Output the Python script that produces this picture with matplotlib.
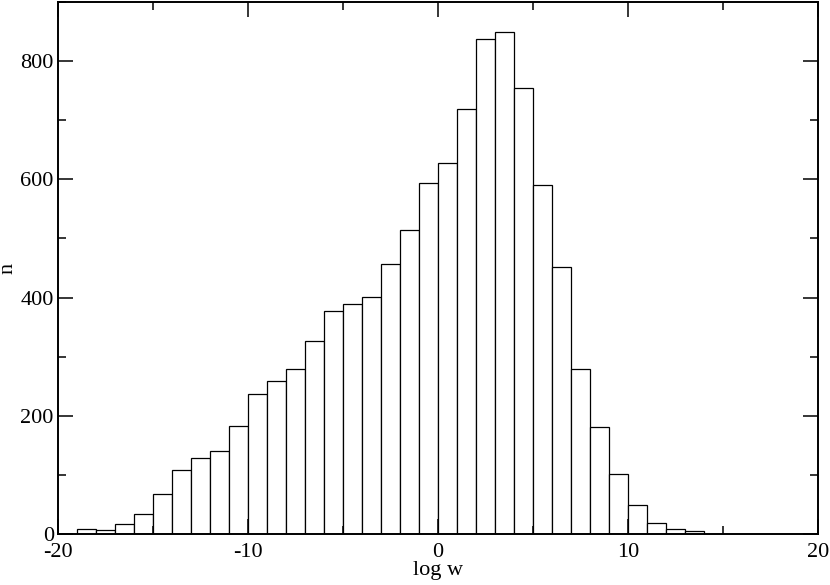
import numpy as np
import matplotlib
matplotlib.use('Agg')
import matplotlib.pyplot as plt
from matplotlib.ticker import MultipleLocator

# histogram data: left bin edges and counts
binLeft = [-19, -18, -17, -16, -15, -14, -13, -12, -11, -10, -9, -8, -7, -6, -5, -4,
           -3, -2, -1, 0, 1, 2, 3, 4, 5, 6, 7, 8, 9, 10, 11, 12, 13]
counts = [8, 6, 17, 33, 67, 108, 129, 141, 182, 236, 258, 279, 326, 378, 389, 401,
          457, 514, 593, 627, 719, 837, 849, 755, 591, 451, 279, 181, 101, 49, 18, 8, 5]
binWidth = 1

plt.rcParams['font.family'] = ['Liberation Serif', 'DejaVu Serif']
plt.rcParams['axes.unicode_minus'] = False

fig = plt.figure(figsize=(8.3, 5.85), dpi=100)
ax = fig.add_axes([0.0699, 0.0872, 0.9156, 0.9094])

ax.bar(binLeft, counts, width=binWidth, align='edge', facecolor='white',
       edgecolor='black', linewidth=0.9)

ax.set(xlim=(-20, 20), ylim=(0, 900))
ax.xaxis.set_major_locator(MultipleLocator(10))
ax.xaxis.set_minor_locator(MultipleLocator(5))
ax.yaxis.set_major_locator(MultipleLocator(200))
ax.yaxis.set_minor_locator(MultipleLocator(100))

ax.tick_params(which='both', direction='in', top=True, right=True, width=1.1, labelsize=16)
ax.tick_params(which='major', length=10.5)
ax.tick_params(which='minor', length=5.8)
ax.tick_params(axis='x', which='major', pad=6.5)
ax.tick_params(axis='y', which='major', pad=3)

for s in ax.spines.values():
    s.set_linewidth(1.4)

ax.set_xlabel('log w', fontsize=16, labelpad=-1)
ax.set_ylabel('n', fontsize=16, labelpad=2)

plt.savefig('out.png', dpi=100)
